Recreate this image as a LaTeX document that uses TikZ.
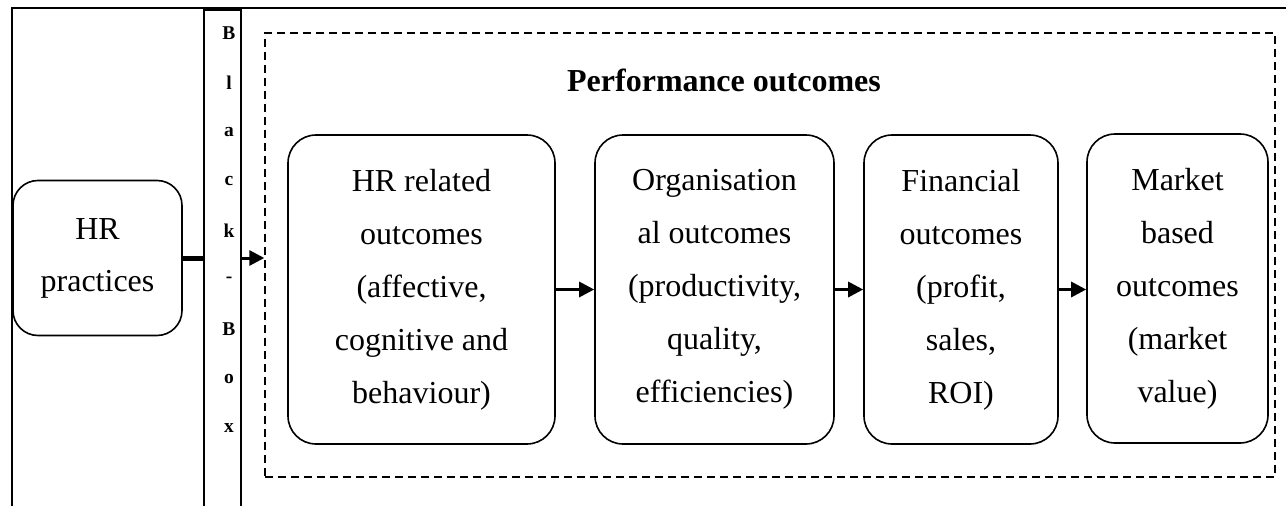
\documentclass[tikz,border=0pt]{standalone}
\usepackage{fontspec}
\setmainfont{Liberation Serif}
\usetikzlibrary{arrows.meta}
\begin{document}
\begin{tikzpicture}[x=1pt,y=-1pt,
  frame/.style={draw,line width=2pt},
  rbox/.style={draw,line width=1.6pt,rounded corners=28pt,align=center,
    inner sep=0pt,font=\fontsize{32}{53}\selectfont},
  bbletter/.style={inner sep=0pt,font=\bfseries\fontsize{19.5}{22}\selectfont},
  arr/.style={line width=3pt,-{Triangle[length=15pt,width=15pt]}}]
  \clip (0,0) rectangle (1286,506);
  % outer frame, continuing past the right and lower edges
  \draw[frame] (12,8) rectangle (1320,540);
  % the black-box column
  \node[frame,minimum width=37pt,minimum height=530pt,anchor=north west,inner sep=0pt]
    (bb) at (203,9) {};
  \foreach \ch [count=\i] in {B,l,a,c,k,-,B,o,x}
    \node[bbletter] (bbl\i) at (229,{33+49.4*(\i-1)}) {\ch};
  % HR practices
  \node[rbox,rounded corners=25pt,minimum width=169pt,minimum height=155pt,
    font=\fontsize{32}{52}\selectfont] (hr) at (97.5,258) {HR\\practices};
  % performance outcomes frame
  \node[draw,dash pattern=on 8pt off 5pt,line width=1.4pt,minimum width=1010pt,
    minimum height=444pt,inner sep=0pt] (perf) at (770,255) {};
  \node[font=\bfseries\fontsize{32}{36}\selectfont] (title) at (724,80) {Performance outcomes};
  % outcome boxes
  \node[rbox,minimum width=267pt,minimum height=309pt] (b1) at (421.5,289.5)
    {HR related\\outcomes\\(affective,\\cognitive and\\behaviour)};
  \node[rbox,minimum width=239pt,minimum height=309pt] (b2) at (714.5,289.5)
    {Organisation\\al outcomes\\(productivity,\\quality,\\efficiencies)};
  \node[rbox,minimum width=194pt,minimum height=309pt] (b3) at (961,289.5)
    {Financial\\outcomes\\(profit,\\sales,\\ROI)};
  \node[rbox,minimum width=181pt,minimum height=309pt] (b4) at (1177.5,288.5)
    {Market\\based\\outcomes\\(market\\value)};
  % connectors
  \draw[line width=5pt] (hr.east) -- (bb.west |- hr.east);
  \draw[arr] (bb.east |- hr.east) -- (perf.west |- hr.east);
  \draw[arr] (b1.east) -- (b2.west);
  \draw[arr] (b2.east) -- (b3.west);
  \draw[arr] (b3.east) -- (b4.west |- b3.east);
\end{tikzpicture}
\end{document}
